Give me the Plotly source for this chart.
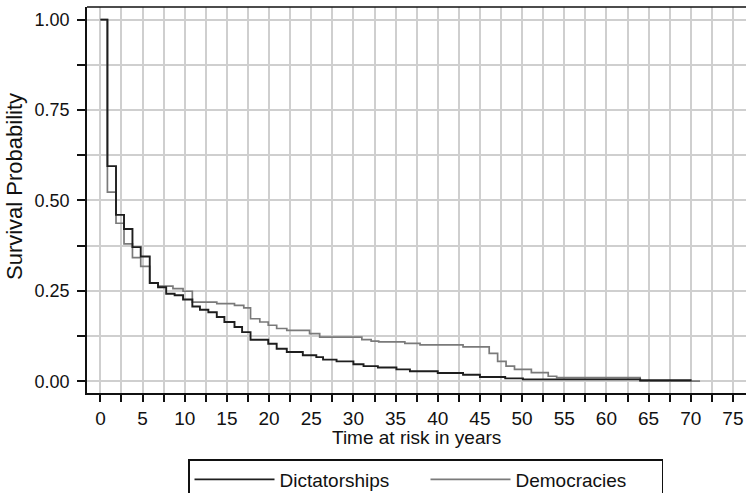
import plotly.graph_objects as go

# ---- data ----
DICT_T = [0, 0.83, 1.85, 2.8, 3.8, 4.78, 5.85, 6.83, 7.8, 8.8, 9.8, 10.9, 11.8, 12.8,
          13.8, 14.7, 15.9, 16.8, 17.8, 19.9, 20.9, 22.1, 24.0, 25.6, 26.4, 28.0,
          30.0, 31.2, 32.9, 35.1, 36.7, 40.0, 43.0, 45.0, 48.0, 50.1, 64.0, 70.1]
DICT_S = [1.0, 0.595, 0.46, 0.421, 0.371, 0.345, 0.272, 0.26, 0.242, 0.238, 0.226, 0.207,
          0.198, 0.191, 0.178, 0.164, 0.150, 0.136, 0.115, 0.104, 0.090, 0.081, 0.072,
          0.067, 0.060, 0.055, 0.047, 0.042, 0.038, 0.033, 0.028, 0.023, 0.018, 0.012,
          0.008, 0.0055, 0.003, 0.003]

DEMO_T = [0, 0.83, 1.85, 2.8, 3.8, 4.78, 5.85, 6.83, 8.6, 9.8, 10.9, 13.8, 15.9, 17.0,
          17.8, 18.9, 19.9, 20.9, 22.1, 24.8, 26.0, 31.0, 32.1, 33.0, 36.1, 37.9, 43.0,
          46.1, 47.1, 48.1, 49.1, 51.1, 53.1, 54.1, 64.0, 71.1]
DEMO_S = [1.0, 0.523, 0.437, 0.38, 0.342, 0.318, 0.272, 0.263, 0.256, 0.249, 0.219, 0.215,
          0.210, 0.203, 0.173, 0.164, 0.155, 0.146, 0.141, 0.132, 0.122, 0.115, 0.111,
          0.109, 0.105, 0.101, 0.095, 0.077, 0.055, 0.042, 0.033, 0.024, 0.014, 0.010,
          0.0005, 0.0005]

SERIES_NAMES = ["Dictatorships", "Democracies"]
X_TICKS = [0, 5, 10, 15, 20, 25, 30, 35, 40, 45, 50, 55, 60, 65, 70, 75]
X_TICK_LABELS = [str(v) for v in X_TICKS]
Y_TICKS = [0.0, 0.25, 0.5, 0.75, 1.0]
Y_TICK_LABELS = ["0.00", "0.25", "0.50", "0.75", "1.00"]
X_TITLE = "Time at risk in years"
Y_TITLE = "Survival Probability"

FONT = "Liberation Sans, Arial, sans-serif"
GRID = "#cfcfcf"
AX = "#111111"

fig = go.Figure()
fig.add_trace(go.Scatter(x=DEMO_T, y=DEMO_S, mode="lines", line_shape="hv",
                         name=SERIES_NAMES[1], line=dict(color="#7a7a7a", width=1.7)))
fig.add_trace(go.Scatter(x=DICT_T, y=DICT_S, mode="lines", line_shape="hv",
                         name=SERIES_NAMES[0], line=dict(color="#1e1e1e", width=1.9)))

fig.update_layout(
    width=746, height=493,
    margin=dict(l=87, r=0, t=7, b=100, autoexpand=False),
    paper_bgcolor="white", plot_bgcolor="white",
    font=dict(family=FONT, color=AX, size=18),
    showlegend=True,
    legend=dict(orientation="h", xref="container", yref="container",
                x=188 / 746, xanchor="left", y=1 - 459 / 493, yanchor="top",
                bordercolor="#111111", borderwidth=1.5,
                font=dict(size=19, family=FONT, color=AX),
                itemwidth=80, entrywidth=141, entrywidthmode="pixels",
                traceorder="reversed", bgcolor="white"),
    xaxis=dict(range=[-1.59, 76.55], tickvals=X_TICKS, ticktext=X_TICK_LABELS,
               showgrid=True, gridcolor=GRID, gridwidth=1.5, zeroline=False,
               showline=True, linecolor=AX, linewidth=1.5,
               ticks="outside", ticklen=7, tickwidth=1.5, tickcolor=AX,
               tickfont=dict(size=19),
               minor=dict(dtick=2.5, tick0=0, ticks="outside", ticklen=7, tickwidth=1.5,
                          tickcolor=AX, showgrid=True, gridcolor=GRID, gridwidth=1.5)),
    yaxis=dict(range=[-0.0323, 1.0348], tickvals=Y_TICKS, ticktext=Y_TICK_LABELS,
               showgrid=True, gridcolor=GRID, gridwidth=1.5, zeroline=False,
               showline=True, linecolor=AX, linewidth=1.5,
               ticks="outside", ticklen=8, tickwidth=1.5, tickcolor=AX,
               tickfont=dict(size=18), ticklabelstandoff=4,
               minor=dict(dtick=0.125, tick0=0, ticks="outside", ticklen=8, tickwidth=1.5,
                          tickcolor=AX, showgrid=True, gridcolor=GRID, gridwidth=1.5)),
    shapes=[dict(type="line", xref="paper", yref="paper", x0=0, x1=1, y0=1, y1=1,
                 line=dict(color=AX, width=1.5))],
    annotations=[
        dict(text=X_TITLE, xref="paper", yref="paper", x=0.5, y=0, xanchor="center",
             yanchor="middle", yshift=-44, showarrow=False, font=dict(size=19)),
        dict(text=Y_TITLE, xref="paper", yref="paper", x=0, y=0.5, xanchor="center",
             yanchor="middle", xshift=-73, yshift=13, textangle=-90, showarrow=False,
             font=dict(size=22)),
    ],
)

fig.write_html("out.html", config={"displayModeBar": False},
               post_script="document.body.style.margin='0';document.body.style.overflow='hidden';")
